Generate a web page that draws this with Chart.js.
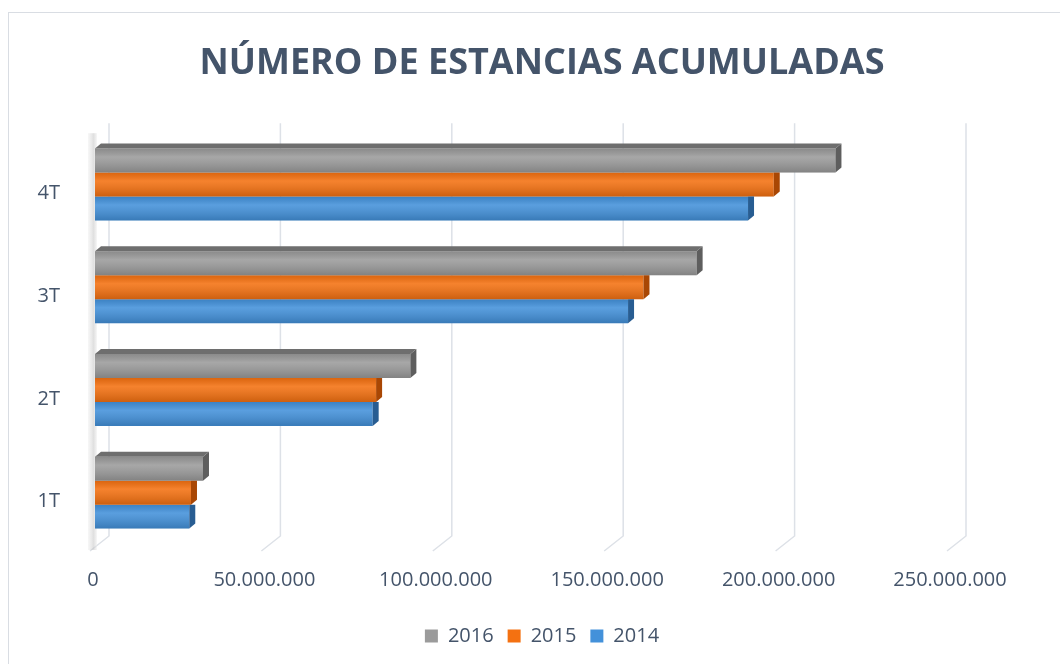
<!DOCTYPE html>
<html>
<head>
<meta charset="utf-8">
<script src="https://cdn.jsdelivr.net/npm/chart.js@4.4.1/dist/chart.umd.min.js"></script>
<style>
  html, body { margin: 0; padding: 0; background: #fff; }
  #wrap { position: relative; width: 1060px; height: 664px; overflow: hidden; }
  #frame { position: absolute; left: 8px; top: 12px; width: 1100px; height: 700px; border: 1px solid #d9dde3; box-sizing: border-box; }
  canvas { position: absolute; left: 0; top: 0; }
</style>
</head>
<body>
<div id="wrap">
  <div id="frame"></div>
  <canvas id="chart" width="1060" height="664"></canvas>
</div>
<script>
// categories top to bottom, series in legend order
const categories = ["4T", "3T", "2T", "1T"];
const seriesNames = ["2016", "2015", "2014"];
const values2016 = [216000000, 175500000, 92000000, 31500000];
const values2015 = [198000000, 160000000, 82000000, 28000000];
const values2014 = [190500000, 155500000, 81000000, 27500000];
const axisMax = 250000000;
const axisStep = 50000000;

const baseColors = ["#9b9b9b", "#f47111", "#4391da"];
const capColors = ["#5e5e5e", "#a94704", "#285d92"];
const topFaceColor = "#6e6e6e";
const textColor = "#44546a";
const FONT = "'Open Sans', sans-serif";

const fmt = v => String(v).replace(/\B(?=(\d{3})+(?!\d))/g, ".");

// fake 3D: back-wall grid, side wall, bar shading, end caps
const bars3d = {
  id: "bars3d",
  beforeDatasetsDraw(chart) {
    const { ctx, chartArea, scales: { x } } = chart;
    ctx.save();
    ctx.strokeStyle = "#dde1e7";
    ctx.lineWidth = 1.5;
    x.ticks.forEach(t => {
      const px = x.getPixelForValue(t.value);
      ctx.beginPath();
      ctx.moveTo(px + 14, chartArea.top - 10);
      ctx.lineTo(px + 14, chartArea.bottom - 8);
      ctx.lineTo(px - 5, chartArea.bottom + 7);
      ctx.stroke();
    });
    // side wall
    const x0 = x.getPixelForValue(0);
    const g = ctx.createLinearGradient(x0 - 7, 0, x0 + 2, 0);
    g.addColorStop(0, "rgba(215,215,215,0.2)");
    g.addColorStop(0.6, "rgba(185,185,185,0.45)");
    g.addColorStop(1, "rgba(240,240,240,0.5)");
    ctx.fillStyle = g;
    ctx.fillRect(x0 - 7, chartArea.top, 9, chartArea.bottom - chartArea.top + 6);
    ctx.restore();
  },
  afterDatasetsDraw(chart) {
    const { ctx } = chart;
    const d = 6, dy = 5;
    ctx.save();
    for (let i = chart.data.datasets.length - 1; i >= 0; i--) {
      const meta = chart.getDatasetMeta(i);
      meta.data.forEach(bar => {
        const p = bar.getProps(["x", "y", "base", "height"], true);
        const top = p.y - p.height / 2;
        const bottom = p.y + p.height / 2;
        // shading over front face
        const g = ctx.createLinearGradient(0, top, 0, bottom);
        g.addColorStop(0, "rgba(0,0,0,0.10)");
        g.addColorStop(0.35, "rgba(255,255,255,0.12)");
        g.addColorStop(1, "rgba(0,0,0,0.16)");
        ctx.fillStyle = g;
        ctx.fillRect(p.base, top, p.x - p.base, p.height);
        // end cap
        ctx.fillStyle = capColors[i];
        ctx.beginPath();
        if (i === 0) {
          ctx.moveTo(p.x, top);
          ctx.lineTo(p.x + d, top - dy);
          ctx.lineTo(p.x + d, bottom - dy);
          ctx.lineTo(p.x, bottom);
        } else {
          ctx.moveTo(p.x, top);
          ctx.lineTo(p.x + d, top);
          ctx.lineTo(p.x + d, bottom - dy);
          ctx.lineTo(p.x, bottom);
        }
        ctx.closePath();
        ctx.fill();
        // top face on the uppermost bar
        if (i === 0) {
          ctx.fillStyle = topFaceColor;
          ctx.beginPath();
          ctx.moveTo(p.base, top);
          ctx.lineTo(p.base + d, top - dy);
          ctx.lineTo(p.x + d, top - dy);
          ctx.lineTo(p.x, top);
          ctx.closePath();
          ctx.fill();
        }
      });
    }
    ctx.restore();
  }
};

const seriesValues = [values2016, values2015, values2014];

new Chart(document.getElementById("chart"), {
  type: "bar",
  data: {
    labels: categories,
    datasets: seriesNames.map((name, i) => ({
      label: name,
      data: seriesValues[i],
      backgroundColor: baseColors[i],
      borderWidth: 0,
      categoryPercentage: 0.7,
      barPercentage: 1.0
    }))
  },
  options: {
    indexAxis: "y",
    responsive: false,
    animation: false,
    layout: { padding: { left: 24, right: 0, top: 0, bottom: 8 } },
    scales: {
      x: {
        min: 0,
        max: axisMax,
        grid: { display: false },
        border: { display: false },
        ticks: {
          stepSize: axisStep,
          color: textColor,
          font: { family: FONT, size: 20 },
          padding: 16,
          labelOffset: -2,
          maxRotation: 0,
          callback: v => fmt(v)
        },
        afterFit: s => { s.height = 68; }
      },
      y: {
        grid: { display: false },
        border: { display: false },
        ticks: {
          color: textColor,
          font: { family: FONT, size: 20 },
          padding: 27,
          labelOffset: 9
        },
        afterFit: s => { s.width = 71; }
      },
      // empty right-hand axis, keeps room for the 3D depth and last tick label
      y2: {
        type: "linear",
        position: "right",
        grid: { display: false },
        border: { display: false },
        ticks: { display: false },
        afterFit: s => { s.width = 108; }
      }
    },
    plugins: {
      title: {
        display: true,
        text: "NÚMERO DE ESTANCIAS ACUMULADAS",
        color: textColor,
        font: { family: FONT, size: 36, weight: "bold" },
        padding: { top: 42, bottom: 48 }
      },
      legend: {
        position: "bottom",
        labels: {
          color: textColor,
          font: { family: FONT, size: 20 },
          boxWidth: 13,
          boxHeight: 13,
          padding: 14
        }
      },
      tooltip: { enabled: false }
    }
  },
  plugins: [bars3d]
});
</script>
</body>
</html>
